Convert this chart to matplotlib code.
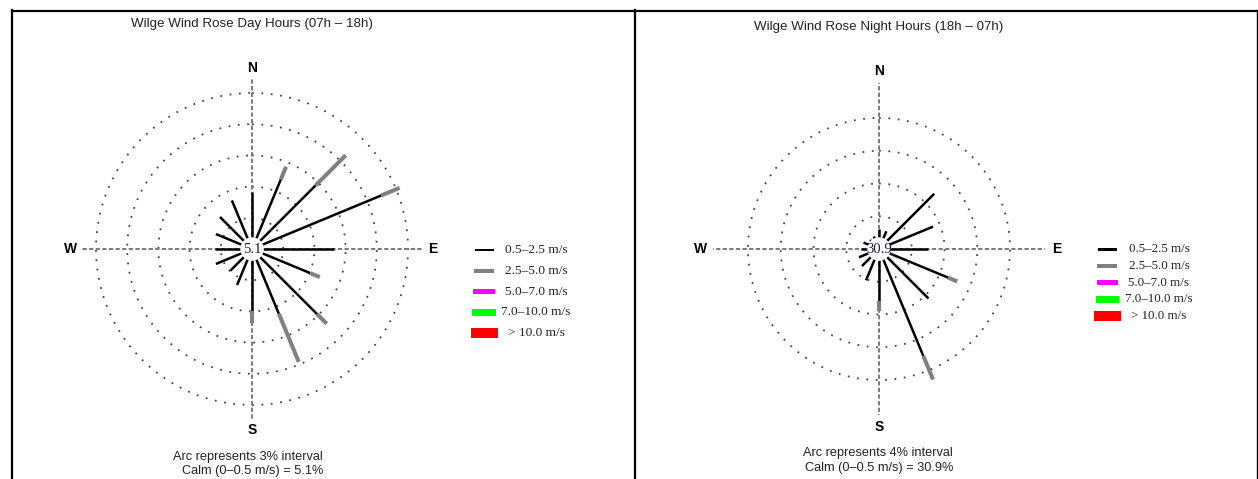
import numpy as np
import matplotlib.pyplot as plt
from matplotlib.patches import Rectangle

# sixteen compass sectors, clockwise from north
directions = ['N', 'NNE', 'NE', 'ENE', 'E', 'ESE', 'SE', 'SSE',
              'S', 'SSW', 'SW', 'WSW', 'W', 'WNW', 'NW', 'NNW']

# frequency (%) per sector and speed class, day hours 07h-18h
day_05_25 = [4.4, 6.2, 7.6, 12.4, 6.8, 5.0, 7.8, 5.7,
             4.9, 2.7, 1.9, 2.7, 2.5, 2.7, 3.3, 4.0]
day_25_50 = [0.0, 1.3, 4.1, 1.9, 0.0, 1.0, 1.3, 5.0,
             1.2, 0.0, 0.0, 0.0, 0.0, 0.0, 0.0, 0.0]
day_calm = 5.1
day_arc = 3

# frequency (%) per sector and speed class, night hours 18h-07h
night_05_25 = [1.1, 1.0, 8.2, 5.8, 4.6, 7.8, 7.2, 12.8,
               5.0, 2.8, 1.6, 1.3, 0.9, 0.7, 0.2, 0.3]
night_25_50 = [0.0, 0.0, 0.0, 0.0, 0.0, 1.2, 0.0, 3.1,
               1.2, 0.0, 0.0, 0.0, 0.0, 0.0, 0.0, 0.0]
night_calm = 30.9
night_arc = 4

speed_classes = ['0.5\u20132.5 m/s', '2.5\u20135.0 m/s', '5.0\u20137.0 m/s',
                 '7.0\u201310.0 m/s', '> 10.0 m/s']
class_colors = ['black', '#808080', '#ff00ff', '#00ff00', '#ff0000']

W, H = 1258, 479
fig = plt.figure(figsize=(W / 100, H / 100), dpi=100)
SANS = 'Liberation Sans'
SERIF = 'Liberation Serif'

# background axes in pixel units for frame, titles, legend and notes
bg = fig.add_axes([0, 0, 1, 1])
bg.set_xlim(0, W)
bg.set_ylim(H, 0)
bg.axis('off')

bg.plot([12, 1257], [10.5, 10.5], color='black', lw=1.6)
bg.plot([12, 12], [10, H], color='black', lw=1.6)
bg.plot([635, 635], [10, H], color='black', lw=1.6)
bg.plot([1257, 1257], [10, H], color='black', lw=1.0)


def rose(cx, cy, px_per_pct, n_rings, arc, low, mid, calm, title, title_y,
         line_px, label_px, calm_px=11):
    size = 200
    rect = [(cx - size) / W, (H - cy - size) / H, 2 * size / W, 2 * size / H]
    ax = fig.add_axes(rect, projection='polar')
    ax.set_theta_zero_location('N')
    ax.set_theta_direction(-1)
    ax.set_ylim(0, size / px_per_pct)
    ax.set_axis_off()

    full = np.linspace(0, 2 * np.pi, 500)
    for k in range(1, n_rings + 1):
        ax.plot(full, np.full_like(full, k * arc), color='#444444', lw=1.3,
                ls=(0, (1, 4.2)), zorder=1)

    r_line = line_px / px_per_pct
    for t in np.deg2rad([0, 90, 180, 270]):
        ax.plot([t, t], [0, r_line], color='#7a7a7a', lw=1.4,
                ls=(0, (2.2, 1.2)), zorder=2)

    r0 = calm_px / px_per_pct
    theta = np.deg2rad(np.arange(16) * 22.5)
    for t, a, b in zip(theta, low, mid):
        ax.plot([t, t], [r0, r0 + a], color='black', lw=1.8,
                solid_capstyle='butt', zorder=3)
        if b > 0:
            ax.plot([t, t], [r0 + a, r0 + a + b], color='#808080', lw=2.9,
                    solid_capstyle='butt', zorder=3)

    ax.fill(full, np.full_like(full, r0), color='white', zorder=4)
    ax.text(0, 0, f'{calm:.1f}', ha='center', va='center', fontsize=10.5,
            family=SERIF, color='#1c1c40', zorder=5)

    r_lab = label_px / px_per_pct
    for name, t in zip(['N', 'E', 'S', 'W'], np.deg2rad([0, 90, 180, 270])):
        ax.text(t, r_lab, name, ha='center', va='center', fontsize=10,
                fontweight='bold', family=SANS)

    bg.text(cx, title_y, title, ha='center', va='center', fontsize=9.6,
            family=SANS, color='#222222')
    return ax


rose(252, 249, 10.4, 5, day_arc, day_05_25, day_25_50, day_calm,
     'Wilge Wind Rose Day Hours (07h \u2013 18h)', 24, 171, 181)
rose(879, 249, 8.19, 4, night_arc, night_05_25, night_25_50, night_calm,
     'Wilge Wind Rose Night Hours (18h \u2013 07h)', 27, 166, 178)


def legend(sx, lx, y0, dy, widths, heights, fs):
    for i, (lab, col) in enumerate(zip(speed_classes, class_colors)):
        y = y0 + i * dy
        w, h = widths[i], heights[i]
        bg.add_patch(Rectangle((sx - w / 2, y - h / 2), w, h, color=col, lw=0))
        bg.text(lx, y, lab, ha='center', va='center', fontsize=fs,
                family=SERIF, color='#222222')


legend(484, 536, 250, 20.8, [19, 20, 22, 24, 27], [2, 4, 5, 7, 10], 9.6)
legend(1107, 1159, 249.4, 16.7, [19, 20, 21, 23, 27], [2.5, 4, 5, 7, 9.5], 9.4)

# interval and calm notes under each rose
bg.text(248, 457, f'Arc represents {day_arc}% interval', ha='center',
        va='center', fontsize=9.2, family=SANS, color='#222222')
bg.text(253, 471, f'Calm (0\u20130.5 m/s) = {day_calm}%', ha='center',
        va='center', fontsize=9.2, family=SANS, color='#222222')
bg.text(878, 453, f'Arc represents {night_arc}% interval', ha='center',
        va='center', fontsize=9.2, family=SANS, color='#222222')
bg.text(879, 468, f'Calm (0\u20130.5 m/s) = {night_calm}%', ha='center',
        va='center', fontsize=9.2, family=SANS, color='#222222')

fig.savefig('out.png', dpi=100)
